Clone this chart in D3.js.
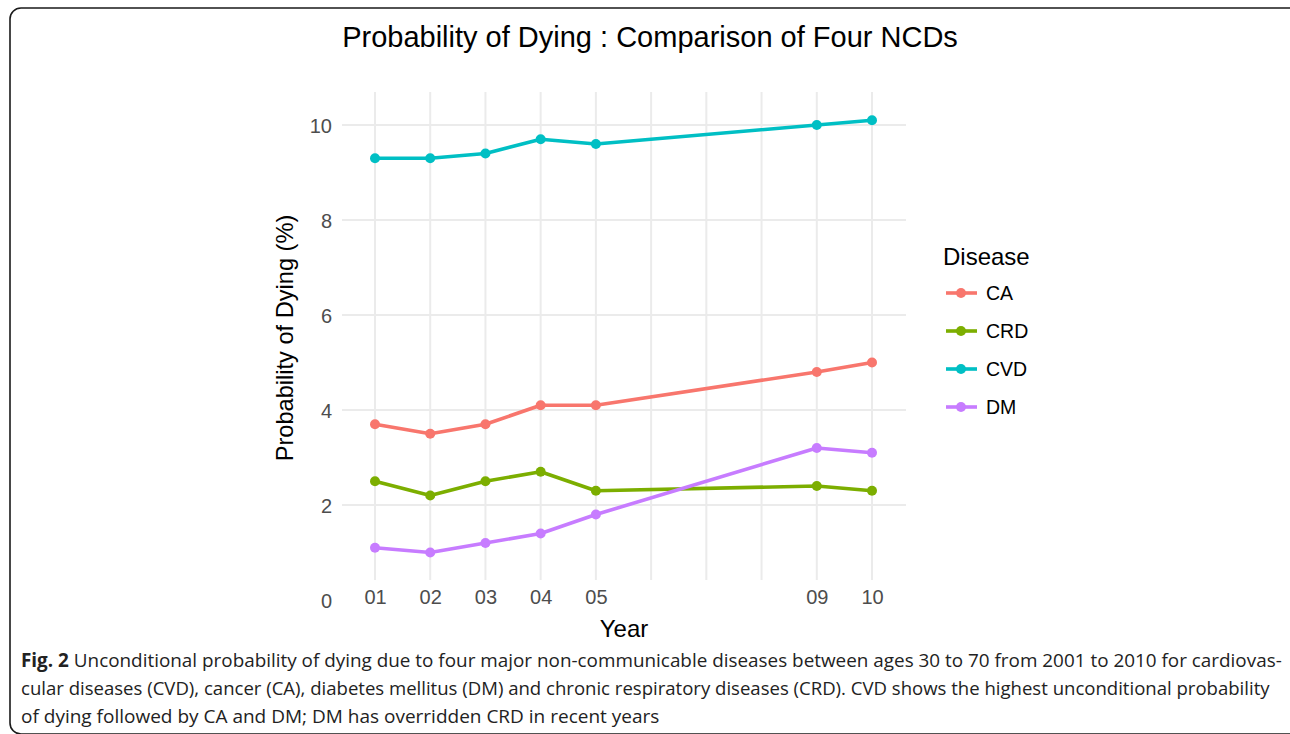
<!DOCTYPE html>
<html>
<head>
<meta charset="utf-8">
<script src="https://cdn.jsdelivr.net/npm/d3@7"></script>
<style>
  html, body { margin: 0; padding: 0; background: #fff; }
  svg { display: block; }
</style>
</head>
<body>
<svg id="chart" width="1290" height="734"></svg>
<script>
// ---- data ----
const years = [1, 2, 3, 4, 5, 9, 10];
const gridYears = [1, 2, 3, 4, 5, 6, 7, 8, 9, 10];
const diseases = ["CA", "CRD", "CVD", "DM"];
const caValues  = [3.7, 3.5, 3.7, 4.1, 4.1, 4.8, 5.0];
const crdValues = [2.5, 2.2, 2.5, 2.7, 2.3, 2.4, 2.3];
const cvdValues = [9.3, 9.3, 9.4, 9.7, 9.6, 10.0, 10.1];
const dmValues  = [1.1, 1.0, 1.2, 1.4, 1.8, 3.2, 3.1];
const yTicks = [0, 2, 4, 6, 8, 10];
const yGrid = [2, 4, 6, 8, 10];
const colors = ["#F8766D", "#7CAE00", "#00BFC4", "#C77CFF"];

const titleText = "Probability of Dying : Comparison of Four NCDs";
const xTitle = "Year";
const yTitle = "Probability of Dying (%)";
const legendTitle = "Disease";
const captionLines = [
  ["Fig. 2", " Unconditional probability of dying due to four major non-communicable diseases between ages 30 to 70 from 2001 to 2010 for cardiovas-"],
  ["", "cular diseases (CVD), cancer (CA), diabetes mellitus (DM) and chronic respiratory diseases (CRD). CVD shows the highest unconditional probability"],
  ["", "of dying followed by CA and DM; DM has overridden CRD in recent years"]
];

const series = diseases.map((d, i) => ({
  name: d,
  color: colors[i],
  values: [caValues, crdValues, cvdValues, dmValues][i].map((v, j) => ({ x: years[j], y: v }))
}));

const svg = d3.select("#chart");
const font = "'Liberation Sans', Arial, Helvetica, sans-serif";

// frame
svg.append("rect")
  .attr("x", 10).attr("y", 8).attr("width", 1292).attr("height", 726)
  .attr("rx", 11).attr("ry", 11)
  .attr("fill", "none").attr("stroke", "#1a1a1a").attr("stroke-width", 1.6);

// scales
const x = d3.scaleLinear().domain([1, 10]).range([375, 872]);
const y = d3.scaleLinear().domain([0, 10]).range([600, 125]);
const panel = { left: 342, right: 906, top: 92, bottom: 580 };

const g = svg.append("g");

// gridlines
g.selectAll(".hgrid").data(yGrid).enter().append("line")
  .attr("x1", panel.left).attr("x2", panel.right)
  .attr("y1", d => y(d)).attr("y2", d => y(d))
  .attr("stroke", "#EBEBEB").attr("stroke-width", 2);
g.selectAll(".vgrid").data(gridYears).enter().append("line")
  .attr("y1", panel.top).attr("y2", panel.bottom)
  .attr("x1", d => x(d)).attr("x2", d => x(d))
  .attr("stroke", "#EBEBEB").attr("stroke-width", 2);

// axes
const yAxis = g.append("g").attr("transform", "translate(332,0)")
  .call(d3.axisLeft(y).tickValues(yTicks).tickSize(0).tickPadding(0).tickFormat(d3.format("d")));
yAxis.select(".domain").remove();
yAxis.selectAll("text").attr("font-family", font).attr("font-size", 20).attr("fill", "#4D4D4D").attr("dy", "0.35em");

const xAxis = g.append("g").attr("transform", "translate(0,590)")
  .call(d3.axisBottom(x).tickValues(years).tickSize(0).tickPadding(0).tickFormat(d3.format("02d")));
xAxis.select(".domain").remove();
xAxis.selectAll("text").attr("font-family", font).attr("font-size", 20).attr("fill", "#4D4D4D").attr("dy", "0.71em");

// lines
const line = d3.line().x(d => x(d.x)).y(d => y(d.y));
const sg = g.selectAll(".series").data(series).enter().append("g");
sg.append("path")
  .attr("d", d => line(d.values))
  .attr("fill", "none").attr("stroke", d => d.color)
  .attr("stroke-width", 3.6).attr("stroke-linejoin", "round");
sg.selectAll("circle").data(d => d.values.map(v => ({ ...v, color: d.color }))).enter().append("circle")
  .attr("cx", d => x(d.x)).attr("cy", d => y(d.y)).attr("r", 5)
  .attr("fill", d => d.color);

// titles
svg.append("text").attr("x", 650).attr("y", 47).attr("text-anchor", "middle")
  .attr("font-family", font).attr("font-size", 29).attr("fill", "#000").text(titleText);
svg.append("text").attr("x", 624).attr("y", 637).attr("text-anchor", "middle")
  .attr("font-family", font).attr("font-size", 24).attr("fill", "#000").text(xTitle);
svg.append("text").attr("transform", "translate(293,338) rotate(-90)").attr("text-anchor", "middle")
  .attr("font-family", font).attr("font-size", 23.6).attr("fill", "#000").text(yTitle);

// legend
const lg = svg.append("g");
lg.append("text").attr("x", 943).attr("y", 265).attr("font-family", font).attr("font-size", 24).attr("fill", "#000").text(legendTitle);
const li = lg.selectAll(".li").data(series).enter().append("g")
  .attr("transform", (d, i) => `translate(0,${293 + i * 38})`);
li.append("line").attr("x1", 946).attr("x2", 977).attr("y1", 0).attr("y2", 0)
  .attr("stroke", d => d.color).attr("stroke-width", 3.6);
li.append("circle").attr("cx", 961).attr("cy", 0).attr("r", 5).attr("fill", d => d.color);
li.append("text").attr("x", 986).attr("y", 0).attr("dy", "0.35em")
  .attr("font-family", font).attr("font-size", 19.5).attr("fill", "#000").text(d => d.name);

// caption (justified lines are fitted horizontally with a scale transform)
const capFont = "'Open Sans', 'Noto Sans', sans-serif";
const capY = [667, 695, 723];
const capWidths = [1261, 1250, null];
captionLines.forEach((ln, i) => {
  const t = svg.append("text").attr("x", 0).attr("y", 0)
    .attr("font-family", capFont).attr("font-size", 19).attr("fill", "#222");
  if (ln[0]) t.append("tspan").attr("font-weight", "bold").text(ln[0]);
  t.append("tspan").text(ln[1]);
  let sx = 1;
  if (capWidths[i]) {
    const L = t.node().getComputedTextLength();
    sx = capWidths[i] / L;
  }
  t.attr("transform", `translate(21,${capY[i]}) scale(${sx},1)`);
});
</script>
</body>
</html>
